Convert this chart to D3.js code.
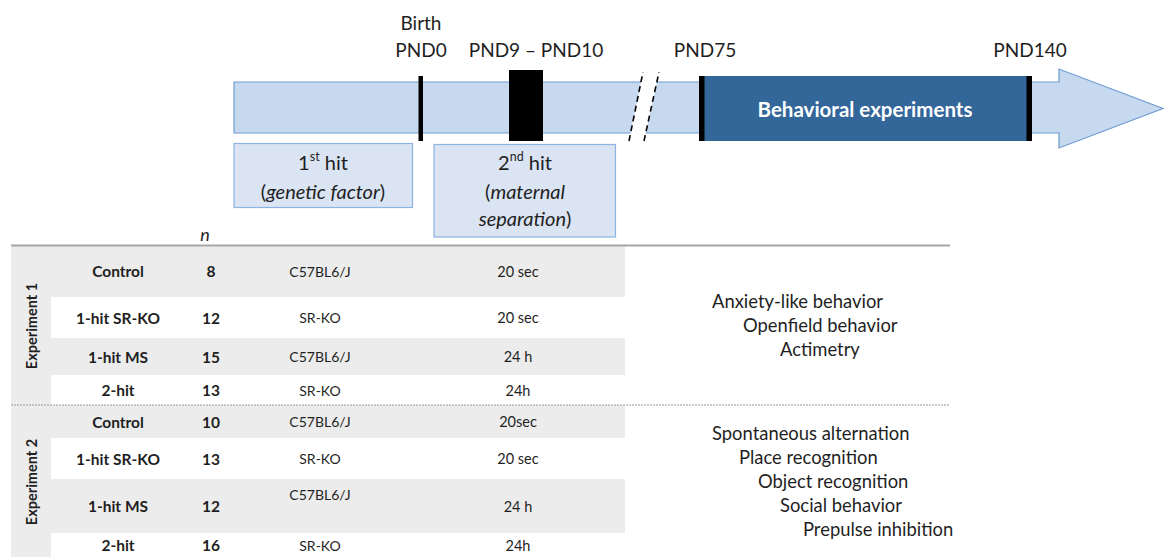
<!DOCTYPE html>
<html>

<head>
    <meta charset="utf-8" />
    <title>Two-hit design: timeline and groups</title>
    <style>
        body {
            margin: 0;
            background: #fff;
        }

        svg text {
            font-family: Lato, "Open Sans", "Noto Sans", sans-serif;
            fill: #1f1f1f;
        }
    </style>
</head>

<body>
    <div id="chart"></div>
    <script src="https://cdn.jsdelivr.net/npm/d3@7"></script>
    <script>
        // data
        var milestones = ["PND0", "PND9 – PND10", "PND75", "PND140"];
        var birthLabel = "Birth";
        var phaseLabel = "Behavioral experiments";
        var hitTitles = ["1", "2"];
        var hitSup = ["st", "nd"];
        var hitLines = [["genetic factor"], ["maternal", "separation"]];

        var experiments = ["Experiment 1", "Experiment 2"];
        var groups = ["Control", "1-hit SR-KO", "1-hit MS", "2-hit"];
        var nExp1 = [8, 12, 15, 13];
        var nExp2 = [10, 13, 12, 16];
        var strains = ["C57BL6/J", "SR-KO", "C57BL6/J", "SR-KO"];
        var separationExp1 = ["20 sec", "20 sec", "24 h", "24h"];
        var separationExp2 = ["20sec", "20 sec", "24 h", "24h"];
        var testsExp1 = ["Anxiety-like behavior", "Openfield behavior", "Actimetry"];
        var testsExp2 = ["Spontaneous alternation", "Place recognition", "Object recognition",
            "Social behavior", "Prepulse inhibition"];

        // layout
        var w = 1164;
        var h = 557;
        var barTop = 82, barBottom = 133;
        var milestoneX = [421, 536, 705, 1030];
        var rowEdges = [[245, 297, 338, 375, 405], [405, 438, 479, 533, 557]];
        var colX = { group: 118, n: 211, strain: 320, sep: 518 };
        var testStart = [[712, 743, 780], [712, 739, 758, 780, 803]];
        var testY = [[301, 325, 349], [433, 457, 481, 505, 529]];

        var svg = d3.select("#chart")
            .append("svg")
            .attr("width", w)
            .attr("height", h);

        // ---- timeline ----
        var tl = svg.append("g");

        // shaft + arrow head in one outline
        var arrow = d3.path();
        arrow.moveTo(234, barTop);
        arrow.lineTo(1059, barTop);
        arrow.lineTo(1059, 69);
        arrow.lineTo(1163, 108.5);
        arrow.lineTo(1059, 148);
        arrow.lineTo(1059, barBottom);
        arrow.lineTo(234, barBottom);
        arrow.closePath();
        tl.append("path")
            .attr("d", arrow.toString())
            .attr("fill", "#c6d9ef")
            .attr("stroke", "#6f9bd0")
            .attr("stroke-width", 1.2);

        // break in the axis
        var gap = [[629, 141], [643, 72], [659, 72], [644, 141]];
        tl.append("polygon")
            .attr("points", gap.map(function(p) { return p.join(","); }).join(" "))
            .attr("fill", "#fff");
        tl.selectAll("line.brk")
            .data([[gap[0], gap[1]], [gap[3], gap[2]]])
            .enter()
            .append("line")
            .attr("class", "brk")
            .attr("x1", function(d) { return d[0][0]; })
            .attr("y1", function(d) { return d[0][1]; })
            .attr("x2", function(d) { return d[1][0]; })
            .attr("y2", function(d) { return d[1][1]; })
            .attr("stroke", "#000")
            .attr("stroke-width", 1.6)
            .attr("stroke-dasharray", "6,4");

        // birth tick
        tl.append("rect")
            .attr("x", 418.5).attr("y", 76)
            .attr("width", 4.5).attr("height", 65)
            .attr("fill", "#000");

        // maternal separation block
        tl.append("rect")
            .attr("x", 509).attr("y", 70)
            .attr("width", 34).attr("height", 71)
            .attr("fill", "#000");

        // behavioral experiments block
        tl.append("rect")
            .attr("x", 699).attr("y", 76)
            .attr("width", 333).attr("height", 65)
            .attr("fill", "#336699");
        tl.selectAll("rect.edge")
            .data([699, 1026.5])
            .enter()
            .append("rect")
            .attr("class", "edge")
            .attr("x", function(d) { return d; })
            .attr("y", 76)
            .attr("width", 5.5)
            .attr("height", 65)
            .attr("fill", "#000");
        tl.append("text")
            .attr("x", 865).attr("y", 109)
            .attr("text-anchor", "middle")
            .attr("dominant-baseline", "central")
            .style("font-size", "20.5px")
            .style("font-weight", "bold")
            .style("fill", "#fff")
            .text(phaseLabel);

        // milestone labels
        tl.append("text")
            .attr("x", milestoneX[0]).attr("y", 22)
            .attr("text-anchor", "middle")
            .attr("dominant-baseline", "central")
            .style("font-size", "19px")
            .text(birthLabel);
        tl.selectAll("text.ms")
            .data(milestones)
            .enter()
            .append("text")
            .attr("class", "ms")
            .attr("x", function(d, i) { return milestoneX[i]; })
            .attr("y", 49)
            .attr("text-anchor", "middle")
            .attr("dominant-baseline", "central")
            .style("font-size", "19px")
            .text(function(d) { return d; });

        // hit boxes
        var hitBoxes = [
            { x: 234, y: 143.5, w: 178.5, h: 64, cx: 323 },
            { x: 434, y: 144.5, w: 181.5, h: 92.5, cx: 525 }
        ];
        var hits = tl.selectAll("g.hit")
            .data(hitTitles)
            .enter()
            .append("g")
            .attr("class", "hit");
        hits.append("rect")
            .attr("x", function(d, i) { return hitBoxes[i].x; })
            .attr("y", function(d, i) { return hitBoxes[i].y; })
            .attr("width", function(d, i) { return hitBoxes[i].w; })
            .attr("height", function(d, i) { return hitBoxes[i].h; })
            .attr("fill", "#dae4f3")
            .attr("stroke", "#8db4e2")
            .attr("stroke-width", 1.2);
        var title = hits.append("text")
            .attr("x", function(d, i) { return hitBoxes[i].cx; })
            .attr("y", 162)
            .attr("text-anchor", "middle")
            .attr("dominant-baseline", "central")
            .style("font-size", "20px");
        title.append("tspan").text(function(d) { return d; });
        title.append("tspan")
            .attr("dy", -6)
            .style("font-size", "12.5px")
            .text(function(d, i) { return hitSup[i]; });
        title.append("tspan")
            .attr("dy", 6)
            .text(" hit");

        hits.each(function(d, i) {
            var g = d3.select(this);
            var lines = hitLines[i];
            lines.forEach(function(line, j) {
                var t = g.append("text")
                    .attr("x", hitBoxes[i].cx)
                    .attr("y", 191 + j * 27)
                    .attr("text-anchor", "middle")
                    .attr("dominant-baseline", "central")
                    .style("font-size", "20px");
                if (j === 0) t.append("tspan").text("(");
                t.append("tspan").style("font-style", "italic").text(line);
                if (j === lines.length - 1) t.append("tspan").text(")");
            });
        });

        // ---- table ----
        var table = svg.append("g");

        // left label band
        table.append("rect")
            .attr("x", 11).attr("y", 245)
            .attr("width", 40).attr("height", h - 245)
            .attr("fill", "#ececec");

        var expData = [
            { n: nExp1, sep: separationExp1, tests: testsExp1 },
            { n: nExp2, sep: separationExp2, tests: testsExp2 }
        ];

        expData.forEach(function(ex, e) {
            var edges = rowEdges[e];
            var yMid = function(i) { return (edges[i] + edges[i + 1]) / 2; };
            var g = table.append("g");

            // shaded rows (1st and 3rd)
            g.selectAll("rect.row")
                .data(groups)
                .enter()
                .filter(function(d, i) { return i % 2 === 0; })
                .append("rect")
                .attr("class", "row")
                .attr("x", 11)
                .attr("y", function(d) { return edges[groups.indexOf(d)]; })
                .attr("width", 614)
                .attr("height", function(d) {
                    var i = groups.indexOf(d);
                    return edges[i + 1] - edges[i];
                })
                .attr("fill", "#ececec");

            // experiment label, rotated
            var ly = (edges[0] + edges[4]) / 2 + 1;
            g.append("text")
                .attr("transform", "translate(31," + ly + ") rotate(-90)")
                .attr("text-anchor", "middle")
                .attr("dominant-baseline", "central")
                .style("font-size", "14.5px")
                .style("font-weight", "bold")
                .text(experiments[e]);

            var cols = [
                { key: "group", vals: groups, bold: true, size: 15.5 },
                { key: "n", vals: ex.n, bold: true, size: 15.5 },
                { key: "strain", vals: strains, bold: false, size: 14 },
                { key: "sep", vals: ex.sep, bold: false, size: 14.5 }
            ];
            cols.forEach(function(c) {
                g.selectAll("text." + c.key)
                    .data(c.vals)
                    .enter()
                    .append("text")
                    .attr("class", c.key)
                    .attr("x", colX[c.key])
                    .attr("y", function(d, i) {
                        // strain sits higher in the tall 1-hit MS row of experiment 2
                        if (c.key === "strain" && e === 1 && i === 2) return yMid(i) - 12;
                        return yMid(i);
                    })
                    .attr("text-anchor", "middle")
                    .attr("dominant-baseline", "central")
                    .style("font-size", c.size + "px")
                    .style("font-weight", c.bold ? "bold" : "normal")
                    .text(function(d) { return d; });
            });

            // behavioral tests
            g.selectAll("text.test")
                .data(ex.tests)
                .enter()
                .append("text")
                .attr("class", "test")
                .attr("x", function(d, i) { return testStart[e][i]; })
                .attr("y", function(d, i) { return testY[e][i]; })
                .attr("dominant-baseline", "central")
                .style("font-size", "18.4px")
                .text(function(d) { return d; });
        });

        // header rule and separator
        table.append("line")
            .attr("x1", 11).attr("x2", 950)
            .attr("y1", 245.5).attr("y2", 245.5)
            .attr("stroke", "#a6a6a6")
            .attr("stroke-width", 2);
        table.append("line")
            .attr("x1", 11).attr("x2", 950)
            .attr("y1", 405).attr("y2", 405)
            .attr("stroke", "#9a9a9a")
            .attr("stroke-width", 1)
            .attr("stroke-dasharray", "2,1");

        table.append("text")
            .attr("x", 205).attr("y", 234)
            .attr("text-anchor", "middle")
            .attr("dominant-baseline", "central")
            .style("font-size", "18px")
            .style("font-style", "italic")
            .text("n");
    </script>
</body>

</html>
